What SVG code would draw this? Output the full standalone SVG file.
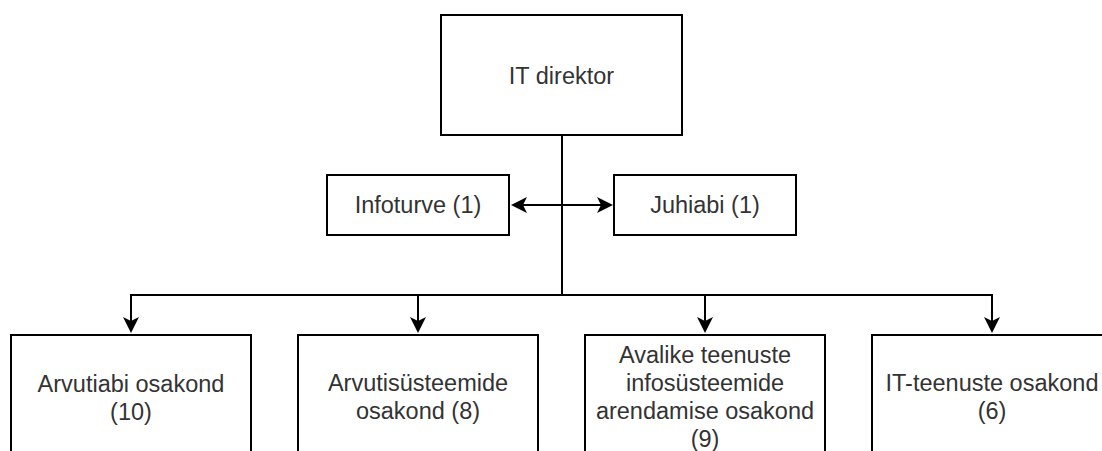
<svg xmlns="http://www.w3.org/2000/svg" width="1102" height="451" viewBox="0 0 1102 451">
  <style>
    .box { fill: #ffffff; stroke: #000000; stroke-width: 2; }
    .lbl { font-family: "Liberation Sans", Arial, Helvetica, sans-serif; font-size: 23.5px; fill: #333333; text-anchor: middle; }
    .edge { fill: none; stroke: #000000; stroke-width: 2; }
  </style>
  <defs>
    <marker id="arr" viewBox="0 0 16 16" refX="4" refY="8" markerWidth="16" markerHeight="16" markerUnits="userSpaceOnUse" orient="auto-start-reverse">
      <path d="M0,0 L16,8 L0,16 L4,8 Z" fill="#000000"/>
    </marker>
  </defs>
  <rect width="1102" height="451" fill="#ffffff"/>

  <g id="connectors">
    <path class="edge" d="M562,135 V295 H131 V321" marker-end="url(#arr)"/>
    <path class="edge" d="M562,135 V295 H418 V321" marker-end="url(#arr)"/>
    <path class="edge" d="M562,135 V295 H705 V321" marker-end="url(#arr)"/>
    <path class="edge" d="M562,135 V295 H992 V321" marker-end="url(#arr)"/>
    <path class="edge" d="M523,205 H601" marker-start="url(#arr)" marker-end="url(#arr)"/>
  </g>

  <g id="it-direktor">
    <rect class="box" x="441" y="15" width="241" height="120"/>
    <text class="lbl" x="561.5" y="84">IT direktor</text>
  </g>

  <g id="infoturve">
    <rect class="box" x="327" y="175" width="182" height="60"/>
    <text class="lbl" x="418" y="213">Infoturve (1)</text>
  </g>

  <g id="juhiabi">
    <rect class="box" x="614" y="175" width="182" height="60"/>
    <text class="lbl" x="705" y="213">Juhiabi (1)</text>
  </g>

  <g id="arvutiabi">
    <rect class="box" x="11" y="335" width="240" height="130"/>
    <text class="lbl" x="131" y="392">Arvutiabi osakond</text>
    <text class="lbl" x="131" y="420">(10)</text>
  </g>

  <g id="arvutisysteemide">
    <rect class="box" x="298" y="335" width="240" height="130"/>
    <text class="lbl" x="418" y="391">Arvutisüsteemide</text>
    <text class="lbl" x="418" y="419">osakond (8)</text>
  </g>

  <g id="avalike-teenuste">
    <rect class="box" x="585" y="335" width="240" height="130"/>
    <text class="lbl" x="705" y="363">Avalike teenuste</text>
    <text class="lbl" x="705" y="391">infosüsteemide</text>
    <text class="lbl" x="705" y="419">arendamise osakond</text>
    <text class="lbl" x="705" y="447">(9)</text>
  </g>

  <g id="it-teenuste">
    <rect class="box" x="872" y="335" width="240" height="130"/>
    <text class="lbl" x="992" y="391">IT-teenuste osakond</text>
    <text class="lbl" x="992" y="419">(6)</text>
  </g>
</svg>
